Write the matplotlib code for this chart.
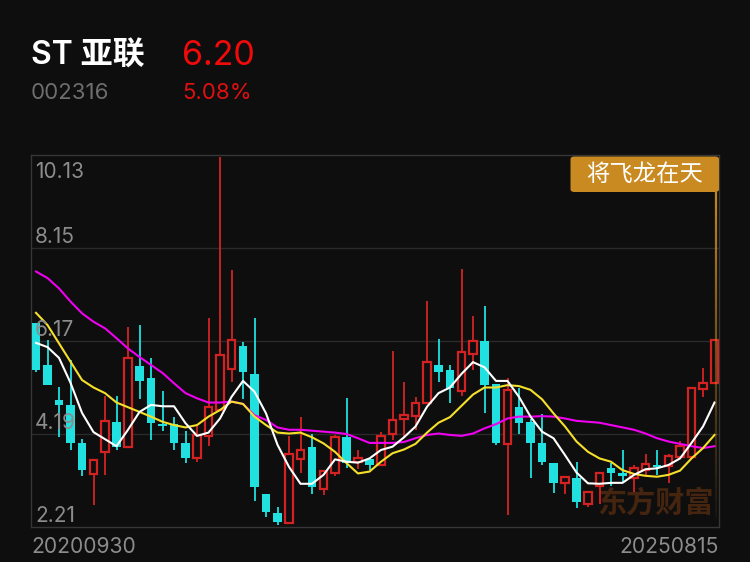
import matplotlib
matplotlib.use('Agg')
import matplotlib.pyplot as plt
from matplotlib.patches import Rectangle, FancyBboxPatch
from matplotlib.collections import LineCollection
import numpy as np

plt.rcParams['font.family'] = ['Inter', 'Noto Sans CJK SC', 'DejaVu Sans']

# ---------------- data ----------------
stock_name = "ST 亚联"
stock_code = "002316"
last_price = "6.20"
change_pct = "5.08%"
badge_text = "将飞龙在天"
watermark = "东方财富"
date_labels = ["20200930", "20250815"]
price_ticks = [10.13, 8.15, 6.17, 4.19, 2.21]

opens = [6.55, 5.66, 4.91, 4.81, 4.00, 3.34, 3.80, 4.45, 3.92, 5.64,
         5.38, 4.40, 4.40, 3.99, 3.67, 4.15, 4.70, 5.57, 6.06, 5.47,
         2.91, 2.50, 2.29, 3.65, 3.92, 3.01, 3.37, 4.13, 3.60, 3.65,
         3.53, 4.19, 4.50, 4.58, 4.84, 5.66, 5.55, 5.11, 5.89, 6.18,
         5.25, 3.98, 4.76, 4.45, 4.00, 3.58, 3.14, 3.25, 2.71, 3.08,
         3.46, 3.35, 3.25, 3.42, 3.53, 3.51, 3.71, 3.71, 5.14, 5.27]
highs = [6.55, 6.19, 5.19, 5.77, 4.08, 3.64, 5.00, 5.00, 6.47, 6.51,
         5.80, 5.11, 4.56, 4.25, 4.35, 6.65, 10.09, 7.68, 6.15, 6.65,
         2.91, 2.63, 4.15, 4.56, 4.20, 3.41, 4.17, 4.95, 3.85, 3.65,
         4.24, 5.96, 5.30, 4.98, 7.02, 6.21, 5.66, 7.70, 6.70, 6.91,
         5.25, 5.39, 5.16, 4.50, 4.62, 3.58, 3.30, 3.60, 2.96, 3.39,
         3.57, 3.85, 3.53, 3.76, 3.85, 3.76, 4.05, 5.16, 5.59, 6.20]
lows = [5.50, 5.23, 4.13, 3.85, 3.30, 2.68, 3.32, 3.84, 3.92, 4.93,
        4.06, 4.26, 3.86, 3.58, 3.60, 3.93, 4.70, 5.30, 4.93, 2.77,
        2.42, 2.25, 2.29, 3.37, 2.91, 2.89, 3.30, 3.46, 3.44, 3.42,
        3.53, 4.06, 4.13, 4.27, 4.84, 5.30, 4.84, 5.00, 5.55, 4.63,
        3.95, 2.47, 4.20, 3.25, 3.53, 2.93, 2.91, 2.61, 2.64, 2.71,
        3.08, 3.17, 2.96, 3.32, 3.32, 3.14, 3.67, 3.71, 4.97, 5.25]
closes = [5.55, 5.23, 4.81, 4.00, 3.42, 3.64, 4.47, 3.92, 5.80, 5.32,
          4.42, 4.35, 3.99, 3.67, 4.17, 4.76, 5.87, 6.19, 5.52, 3.07,
          2.54, 2.32, 3.76, 3.86, 3.07, 3.41, 4.13, 3.57, 3.67, 3.53,
          4.15, 4.49, 4.60, 4.84, 5.73, 5.52, 5.18, 5.94, 6.17, 5.23,
          4.00, 5.13, 4.43, 3.99, 3.60, 3.15, 3.28, 2.75, 2.96, 3.37,
          3.37, 3.30, 3.46, 3.55, 3.49, 3.72, 3.93, 5.16, 5.28, 6.20]

ma_white = [6.13, 6.04, 5.81, 5.28, 4.64, 4.23, 4.08, 3.93, 4.28, 4.66,
            4.81, 4.78, 4.78, 4.42, 4.15, 4.22, 4.52, 4.98, 5.32, 5.09,
            4.63, 3.96, 3.49, 3.13, 3.13, 3.32, 3.65, 3.60, 3.58, 3.67,
            3.85, 3.92, 4.12, 4.35, 4.77, 5.06, 5.18, 5.47, 5.72, 5.61,
            5.32, 5.32, 4.98, 4.56, 4.24, 4.10, 3.74, 3.37, 3.14, 3.13,
            3.15, 3.15, 3.32, 3.44, 3.46, 3.53, 3.67, 4.00, 4.35, 4.86]
ma_yellow = [6.77, 6.51, 6.12, 5.73, 5.34, 5.18, 5.06, 4.86, 4.76, 4.66,
             4.56, 4.45, 4.38, 4.33, 4.38, 4.56, 4.70, 4.88, 4.83, 4.56,
             4.38, 4.22, 4.20, 4.22, 4.12, 3.99, 3.81, 3.57, 3.35, 3.39,
             3.60, 3.78, 3.86, 3.98, 4.22, 4.43, 4.55, 4.79, 5.03, 5.18,
             5.18, 5.23, 5.21, 5.13, 4.93, 4.63, 4.35, 4.03, 3.81, 3.67,
             3.60, 3.42, 3.34, 3.30, 3.28, 3.32, 3.41, 3.67, 3.89, 4.17]
ma_magenta = [7.65, 7.51, 7.29, 7.01, 6.76, 6.58, 6.44, 6.23, 6.01, 5.83,
              5.66, 5.49, 5.27, 5.06, 4.95, 4.86, 4.86, 4.88, 4.83, 4.59,
              4.49, 4.33, 4.28, 4.28, 4.26, 4.24, 4.22, 4.19, 4.10, 4.00,
              4.00, 4.00, 4.02, 4.10, 4.17, 4.20, 4.17, 4.15, 4.20, 4.31,
              4.40, 4.52, 4.56, 4.56, 4.57, 4.56, 4.52, 4.47, 4.45, 4.43,
              4.38, 4.33, 4.28, 4.20, 4.10, 4.03, 3.98, 3.93, 3.89, 3.93]

# ---------------- style ----------------
BG = '#0E0E0E'
RED = '#D42222'
CYAN = '#20E0E0'
GRID = '#2A2A2A'
LABEL = '#8C8C8C'

W, H = 750, 562
fig = plt.figure(figsize=(7.5, 5.62), dpi=100)
fig.patch.set_facecolor(BG)

ax = fig.add_axes([31 / W, 1 - 527 / H, 688 / W, 372 / H])
ax.set_facecolor(BG)
n = len(opens)
xs = np.arange(n)
ax.set_xlim(-0.435, n - 1 + 0.39)
ax.set_ylim(price_ticks[-1], price_ticks[0])
ax.set_xticks([])
ax.set_yticks([])
for s in ax.spines.values():
    s.set_color('#363636')
    s.set_linewidth(1.0)

for p in price_ticks[1:-1]:
    ax.axhline(p, color=GRID, lw=1.0, zorder=0)

# candles
bw = 0.78
for i in range(n):
    o, h, l, c = opens[i], highs[i], lows[i], closes[i]
    if c >= o:
        top, bot = c, o
        ax.plot([xs[i], xs[i]], [top, h], color=RED, lw=1.3, zorder=2, solid_capstyle='butt')
        ax.plot([xs[i], xs[i]], [l, bot], color=RED, lw=1.3, zorder=2, solid_capstyle='butt')
        ax.add_patch(Rectangle((xs[i] - bw / 2 + 0.07, bot), bw - 0.14, max(top - bot, 0.01),
                               facecolor=BG, edgecolor=RED, lw=1.6, zorder=3))
    else:
        top, bot = o, c
        ax.plot([xs[i], xs[i]], [l, h], color=CYAN, lw=1.3, zorder=2, solid_capstyle='butt')
        ax.add_patch(Rectangle((xs[i] - bw / 2, bot), bw, max(top - bot, 0.02),
                               facecolor=CYAN, edgecolor='none', zorder=3))

# moving averages
ax.plot(xs, ma_magenta, color='#F000F0', lw=1.5, zorder=4)
ax.plot(xs, ma_yellow, color='#F5DF2A', lw=1.5, zorder=4)
ax.plot(xs, ma_white, color='#FFFFFF', lw=1.5, zorder=5)

# watermark
ax.text(0.992, 0.025, watermark, transform=ax.transAxes, ha='right', va='bottom',
        fontsize=21, fontweight='bold', color='#45250F', family=['Noto Sans CJK SC'],
        zorder=1)

# price labels
for k, p in enumerate(price_ticks):
    if k == 0:
        ax.annotate(f"{p:.2f}", xy=(0, p), xycoords=('axes fraction', 'data'),
                    xytext=(3, -5), textcoords='offset points', ha='left', va='top',
                    fontsize=15, color=LABEL, zorder=6)
    else:
        ax.annotate(f"{p:.2f}", xy=(0, p), xycoords=('axes fraction', 'data'),
                    xytext=(3, 3.5), textcoords='offset points', ha='left', va='baseline',
                    fontsize=15, color=LABEL, zorder=6)

# orange fading vertical line near the right edge
x_line = 0.9955
nseg = 80
yy = np.linspace(1 - (192 - 155) / 372, 1 - (518 - 155) / 372, nseg + 1)
segs = [[(x_line, yy[j]), (x_line, yy[j + 1])] for j in range(nseg)]
alphas = np.linspace(0.95, 0.05, nseg)
cols = [(0.80, 0.55, 0.13, a) for a in alphas]
lc = LineCollection(segs, colors=cols, linewidths=1.6, transform=ax.transAxes, zorder=6)
ax.add_collection(lc)

# badge
bx0, by0 = 570.5 / W, 1 - 192 / H
bwid, bhei = (719 - 570.5) / W, (192 - 156.5) / H
badge = FancyBboxPatch((bx0, by0), bwid, bhei, boxstyle='round,pad=0,rounding_size=0.005',
                       transform=fig.transFigure, facecolor='#C98A22', edgecolor='none',
                       zorder=10)
fig.patches.append(badge)
fig.text(bx0 + bwid / 2, by0 + bhei / 2, badge_text, ha='center', va='center',
         fontsize=16.8, color='#FFFFFF', family=['Noto Sans CJK SC'], zorder=11)

# header
fig.text(31 / W, 1 - 65 / H, stock_name, ha='left', va='baseline', fontsize=23,
         fontweight='semibold', color='#FFFFFF', family=['Inter', 'Noto Sans CJK SC'])
fig.text(182 / W, 1 - 65 / H, last_price, ha='left', va='baseline', fontsize=24.5,
         color='#F00A0A')
fig.text(31 / W, 1 - 99.3 / H, stock_code, ha='left', va='baseline', fontsize=16,
         color='#6E6E6E')
fig.text(182 / W, 1 - 99.3 / H, change_pct, ha='left', va='baseline', fontsize=16,
         color='#E01010')

# date labels
fig.text(31 / W, 1 - 552.7 / H, date_labels[0], ha='left', va='baseline', fontsize=15.2,
         color=LABEL)
fig.text(719 / W, 1 - 552.7 / H, date_labels[1], ha='right', va='baseline', fontsize=15.2,
         color=LABEL)

fig.savefig('out.png', dpi=100, facecolor=BG)
